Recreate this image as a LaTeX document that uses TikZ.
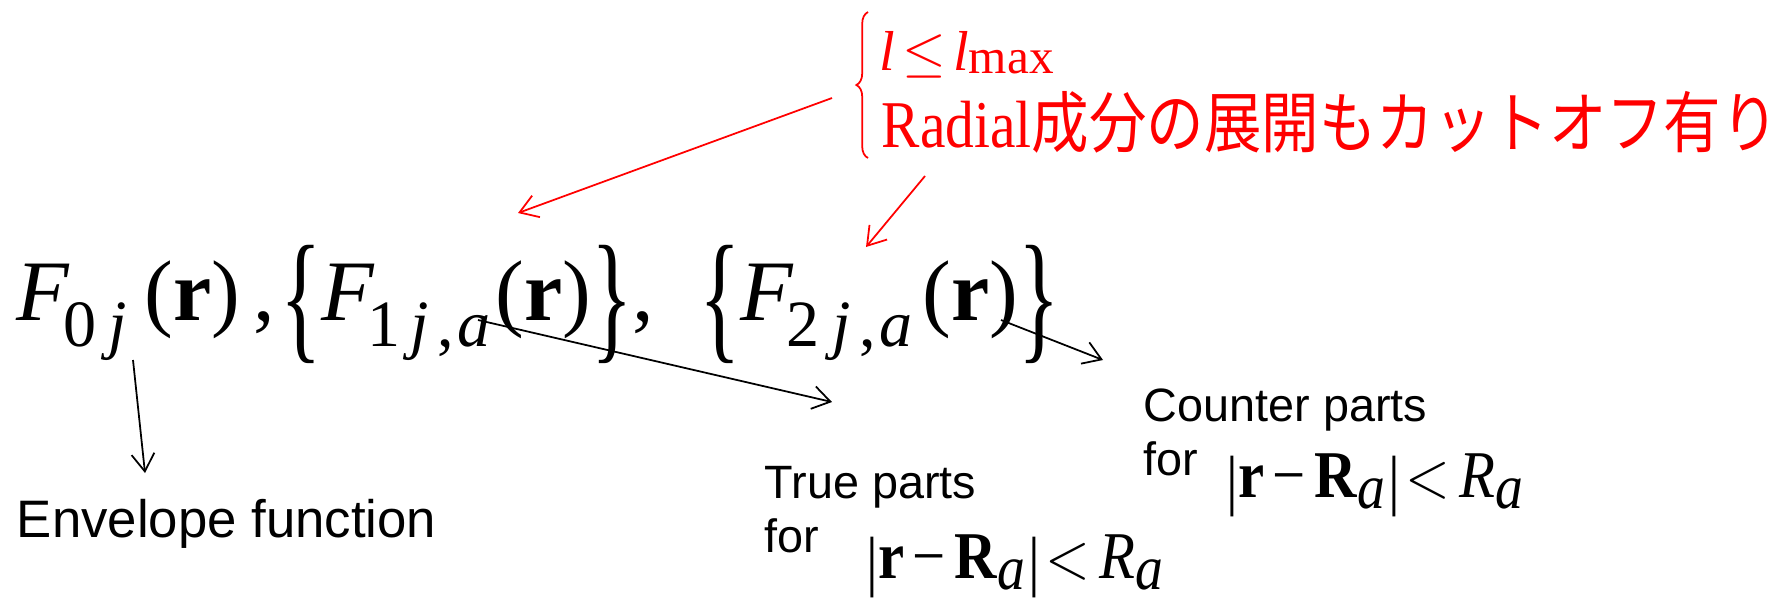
\RequirePackage{fix-cm}
\documentclass[tikz,border=0pt]{standalone}
\usepackage{graphicx}
\usepackage{fontspec}
\setmainfont{Liberation Serif}
\setsansfont{Liberation Sans}
\newfontfamily\jpfont{Noto Sans CJK JP}
\usetikzlibrary{arrows.meta,decorations.pathreplacing}

\newcommand\fsub[1]{\raisebox{-7.4pt}{\fontsize{18.8}{20}\selectfont #1}}
\newcommand\csub[1]{\raisebox{-3.4pt}{\fontsize{18}{20}\selectfont #1}}
\newcommand\lbrc{\raisebox{-7pt}{\scalebox{1}[1.66]{\{}}}
\newcommand\rbrc{\raisebox{-7pt}{\scalebox{1}[1.66]{\}}}}
\newcommand\vbar{\raisebox{-1.5pt}{|}}
\newcommand\cond{\scalebox{0.88}[1]{\vbar\textbf{r}\kern2.5pt−\kern3pt\textbf{R}\csub{\textit{a}}\kern1pt\vbar\kern1.5pt$<$\kern3pt\textit{R}\csub{\textit{a}}}}

\begin{document}
\begin{tikzpicture}[x=0.01cm, y=-0.01cm, line width=0.5pt,
  >={Straight Barb[length=5pt,width=6.5pt]},
  big/.style={font=\fontsize{24.5}{30}\selectfont, anchor=base west, inner sep=0pt},
  txt/.style={font=\fontsize{13.3}{16}\selectfont\sffamily, anchor=base west, inner sep=0pt},
  condf/.style={font=\fontsize{19}{22}\selectfont, anchor=base west, inner sep=0pt},
  note/.style={font=\fontsize{19}{22}\selectfont, anchor=base west, inner sep=0pt, red}]
  \useasboundingbox (0,0) rectangle (1774,599);
  % main formula
  \node[big] (fx) at (16,320) {\textit{F}\kern-2pt\fsub{0\kern3.6pt\textit{j}}\kern5pt(\textbf{r})\kern3.7pt,\kern1.5pt\lbrc\textit{F}\kern-2pt\fsub{1\kern2.8pt\textit{j}\kern2.3pt,\kern1pt\textit{a}}\kern1.5pt(\textbf{r})\rbrc,\kern12.8pt\lbrc\textit{F}\kern-2pt\fsub{2\kern3.6pt\textit{j}\kern2.3pt,\kern1pt\textit{a}}\kern3pt(\textbf{r})\rbrc};
  % red remark
  \draw[red, decorate, decoration={brace, amplitude=3.3pt}] (868,158) -- (868,12);
  \node[note, font=\fontsize{16}{19}\selectfont] (lmax) at (879,70) {\textit{l}\kern2pt$\le$\kern2pt\textit{l}\raisebox{-1pt}{\fontsize{14}{16}\selectfont max}};
  \node[note] (radial) at (881,147) {\scalebox{0.86}[1]{Radial{\jpfont 成分の展開もカットオフ有り}}};
  % labels
  \node[txt, font=\fontsize{15}{18}\selectfont\sffamily] (env) at (16,537) {Envelope function};
  \node[txt] (truep) at (764,498) {True parts};
  \node[txt] (truefor) at (764,552) {for};
  \node[condf] (truecond) at (866,578) {\cond};
  \node[txt] (cntp) at (1143,421) {Counter parts};
  \node[txt] (cntfor) at (1143,475) {for};
  \node[condf] (cntcond) at (1226,497) {\cond};
  % arrows
  \coordinate (envfrom) at (133,360);
  \coordinate (envto) at (145,473);
  \coordinate (truefrom) at (478,320);
  \coordinate (trueto) at (832,402);
  \coordinate (cntfrom) at (1001,320);
  \coordinate (cntto) at (1103,360);
  \coordinate (lfrom) at (832,98);
  \coordinate (lto) at (518,213);
  \coordinate (rfrom) at (925,176);
  \coordinate (rto) at (866,247);
  \draw[->] (envfrom) -- (envto);
  \draw[->] (truefrom) -- (trueto);
  \draw[->] (cntfrom) -- (cntto);
  \draw[->, red] (lfrom) -- (lto);
  \draw[->, red] (rfrom) -- (rto);
\end{tikzpicture}
\end{document}
